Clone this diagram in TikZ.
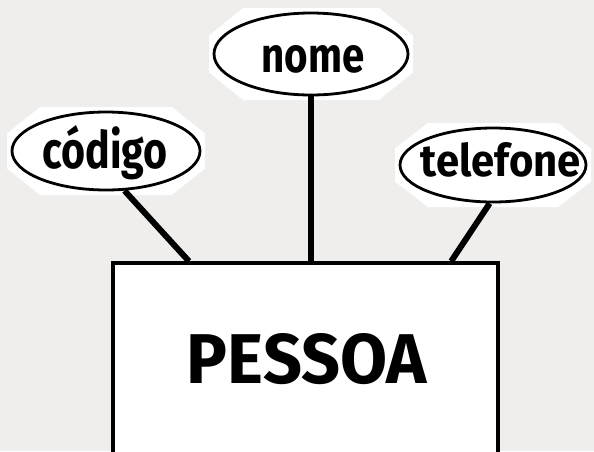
\documentclass[tikz,border=0pt]{standalone}
\usepackage{fontspec}
\usepackage{graphicx}
\setmainfont{Fira Sans}
\usetikzlibrary{shapes.geometric,backgrounds,calc}
\definecolor{bg}{RGB}{239,238,236}
\newcommand\halo[4]{%
  \fill[white] (#1-#3-5,#2-0.45*#4) -- (#1-#3-5,#2+0.45*#4) -- (#1-0.7*#3,#2+#4+5) -- (#1+0.7*#3,#2+#4+5) -- (#1+#3+5,#2+0.45*#4) -- (#1+#3+5,#2-0.45*#4) -- (#1+0.7*#3,#2-#4-5) -- (#1-0.7*#3,#2-#4-5) -- cycle;}
\begin{document}
\begin{tikzpicture}[x=1pt,y=-1pt,
  attr/.style={ellipse, draw, line width=2.8pt, fill=white, inner sep=0pt},
  entity/.style={rectangle, draw, line width=3.5pt, fill=white, inner sep=0pt},
  conn/.style={line width=6pt},
  lbl/.style={font=\bfseries, inner sep=0pt, anchor=base}]
\useasboundingbox (0,0) rectangle (594,451);
\node[entity, minimum width=385pt, minimum height=192pt] (pessoa) at (305.5,359) {};
\node[attr, minimum width=194pt, minimum height=82pt] (nome) at (311,54) {};
\node[attr, minimum width=188pt, minimum height=78pt] (cod) at (106,151) {};
\node[attr, minimum width=186pt, minimum height=74pt] (tel) at (493,165) {};
\node[lbl] (tnome) at (313,72) {\resizebox{103pt}{27pt}{nome}};
\node[lbl] (tcod) at (105,168) {\resizebox{125pt}{43pt}{código}};
\node[lbl] (ttel) at (501,176) {\resizebox{160pt}{34pt}{telefone}};
\node[lbl] (tpes) at (307,383) {\resizebox{240pt}{50pt}{PESSOA}};
\begin{pgfonlayer}{background}
  \fill[bg] (0,0) rectangle (594,451);
  \halo{311}{54}{97}{41}
  \halo{106}{151}{94}{39}
  \halo{493}{165}{93}{37}
  \draw[conn] ($(pessoa.north west)!0.2!(pessoa.north east)$) -- (cod.-65);
  \draw[conn] (nome.south) -- (nome.south |- pessoa.north);
  \draw[conn] ($(pessoa.north west)!0.875!(pessoa.north east)$) -- (tel.-95);
\end{pgfonlayer}
\end{tikzpicture}
\end{document}
